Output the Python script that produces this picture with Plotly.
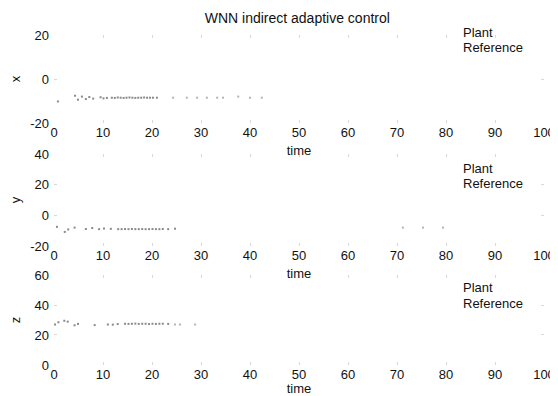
import plotly.graph_objects as go
from plotly.subplots import make_subplots

# ---- data ----
x_plant_t = [0.8, 4.3, 4.9, 5.7, 6.5, 7.2, 8.0, 9.5, 10.1, 10.8, 11.8, 12.4, 13.0, 13.6,
             14.2, 14.8, 15.4, 16.0, 16.6, 17.2, 17.8, 18.4, 19.0, 19.6, 20.2, 21.0]
x_plant_v = [-10.2, -7.6, -9.4, -8.0, -9.1, -8.2, -8.9, -8.3, -8.8, -8.6, -8.5, -8.6, -8.4,
             -8.5, -8.6, -8.5, -8.4, -8.5, -8.6, -8.5, -8.5, -8.4, -8.5, -8.5, -8.5, -8.5]
x_ref_t = [24.3, 27.1, 29.2, 31.2, 33.3, 34.5, 37.6, 40.0, 42.4]
x_ref_v = [-8.49, -8.49, -8.49, -8.49, -8.49, -8.49, -8.0, -8.49, -8.49]

y_plant_t = [0.6, 2.2, 2.9, 4.2, 6.5, 7.8, 9.2, 10.2, 11.6, 13.1, 13.8, 14.5, 15.2, 15.9,
             16.6, 17.3, 18.0, 18.7, 19.4, 20.1, 20.8, 21.5, 22.2, 23.3, 24.7]
y_plant_v = [-7.5, -10.8, -9.2, -8.0, -8.9, -8.3, -9.0, -8.6, -8.8, -9.0, -9.0, -8.9, -9.0,
             -8.9, -9.0, -9.0, -8.9, -9.0, -9.0, -8.9, -9.0, -9.0, -8.9, -9.0, -8.7]
y_ref_t = [71.2, 75.3, 79.4]
y_ref_v = [-8.0, -8.0, -8.0]

z_plant_t = [0.2, 0.9, 2.1, 2.8, 4.2, 4.9, 8.3, 11.0, 12.0, 13.0, 14.5, 15.2, 15.9, 16.6,
             17.3, 18.0, 18.7, 19.4, 20.1, 20.8, 21.5, 22.2, 23.3]
z_plant_v = [27.0, 28.5, 29.5, 28.9, 26.5, 27.4, 26.6, 27.0, 26.9, 27.3, 27.5, 27.4, 27.5,
             27.6, 27.4, 27.5, 27.5, 27.3, 27.5, 27.4, 27.5, 27.5, 27.4]
z_ref_t = [24.7, 25.7, 28.8]
z_ref_v = [27.0, 27.0, 27.0]

x_range = [0, 100]
x_ticks = [0, 10, 20, 30, 40, 50, 60, 70, 80, 90, 100]
panel_ranges = [[-20, 20], [-20, 40], [0, 60]]
panel_ticks = [[-20, 0, 20], [-20, 0, 20, 40], [0, 20, 40, 60]]
panel_names = ["x", "y", "z"]
legend_names = ["Plant", "Reference"]
title_text = "WNN indirect adaptive control"
xlabel = "time"

FONT = "Liberation Sans, Arial, sans-serif"
INK = "#111111"
FAINT_DOT = "#8a8a8a"
REF_DOT = "#b4b4b4"

fig = make_subplots(rows=3, cols=1, shared_xaxes=False, vertical_spacing=0.08)

series = [
    (x_plant_t, x_plant_v, x_ref_t, x_ref_v),
    (y_plant_t, y_plant_v, y_ref_t, y_ref_v),
    (z_plant_t, z_plant_v, z_ref_t, z_ref_v),
]

for i, (pt, pv, rt, rv) in enumerate(series):
    row = i + 1
    fig.add_trace(go.Scatter(x=pt, y=pv, mode="markers", name=legend_names[0],
                             marker=dict(size=2, color=FAINT_DOT, symbol="square"),
                             showlegend=False), row=row, col=1)
    fig.add_trace(go.Scatter(x=rt, y=rv, mode="markers", name=legend_names[1],
                             marker=dict(size=2, color=REF_DOT, symbol="square"),
                             showlegend=False), row=row, col=1)

# domains in paper coords (plot area 330 px tall)
domains = [[0.7333, 1.0], [0.3606, 0.6394], [0.0, 0.2727]]
legend_pos = [(1.008, 0.962), (0.596, 0.550), (0.235, 0.186)]

axis_common = dict(showline=False, showgrid=False, zeroline=False, automargin=False,
                   ticks="inside", ticklen=3, tickcolor="#d8d8d8", tickwidth=1,
                   mirror="ticks", tickfont=dict(family=FONT, size=13, color=INK))

for i in range(3):
    row = i + 1
    fig.update_xaxes(range=x_range, tickvals=x_ticks, ticktext=[str(v) for v in x_ticks],
                     ticklabelstandoff=0,
                     title=dict(text=xlabel, font=dict(family=FONT, size=13, color=INK), standoff=6),
                     row=row, col=1, **axis_common)
    fig.update_yaxes(range=panel_ranges[i], tickvals=panel_ticks[i],
                     ticktext=[str(v) for v in panel_ticks[i]], domain=domains[i],
                     ticklabelstandoff=4,
                     title=dict(text=panel_names[i], font=dict(family=FONT, size=13, color=INK), standoff=12),
                     row=row, col=1, **axis_common)

# legend text (the legend line samples are faded out in the reference)
for i, (yp, yr) in enumerate(legend_pos):
    for name, yy in zip(legend_names, (yp, yr)):
        fig.add_annotation(text=name, xref="paper", yref="paper", x=0.8306, y=yy,
                           xanchor="left", yanchor="middle", showarrow=False,
                           font=dict(family=FONT, size=13, color=INK))

fig.update_layout(
    width=550, height=388,
    margin=dict(l=46, r=14, t=27, b=31),
    paper_bgcolor="white", plot_bgcolor="white",
    title=dict(text=title_text, x=0.526, xanchor="center", y=0.974, yanchor="middle",
               font=dict(family=FONT, size=14, color=INK)),
    showlegend=False,
)

fig.write_html("out.html")
